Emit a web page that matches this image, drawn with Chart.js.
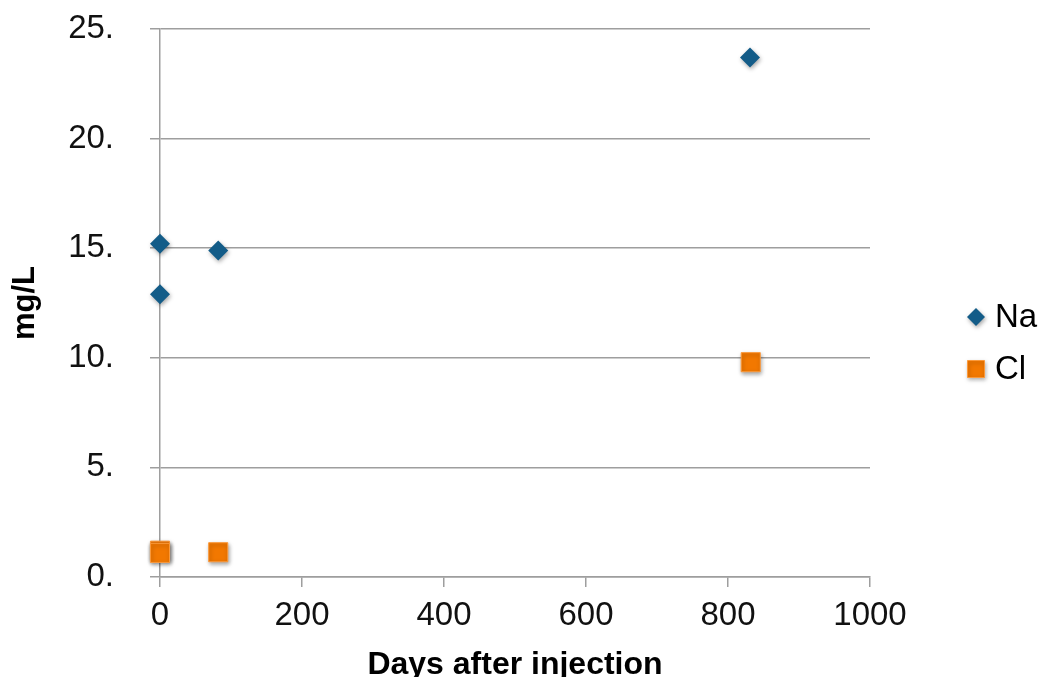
<!DOCTYPE html>
<html>
<head>
<meta charset="utf-8">
<script src="https://cdn.jsdelivr.net/npm/chart.js@4/dist/chart.umd.min.js"></script>
<style>
  html, body { margin: 0; padding: 0; background: #ffffff; }
  #wrap { width: 1042px; height: 677px; }
</style>
</head>
<body>
<div id="wrap"><canvas id="c" width="1042" height="677"></canvas></div>
<script>
// Sampling days and concentrations (mg/L)
const naDays   = [0, 0, 82, 831];
const naValues = [15.2, 12.9, 14.9, 23.7];
const clDays   = [0, 0, 82, 832];
const clValues = [1.2, 1.1, 1.13, 9.8];
const yTicks   = [0, 5, 10, 15, 20, 25];
const xTicks   = [0, 200, 400, 600, 800, 1000];
const seriesNames = ['Na', 'Cl'];

const FONT = '"Liberation Sans", Arial, sans-serif';

function toPoints(xs, ys) {
  return xs.map((x, i) => ({ x: x, y: ys[i] }));
}

function setShadow(ctx) {
  ctx.shadowColor = 'rgba(0,0,0,0.35)';
  ctx.shadowBlur = 4;
  ctx.shadowOffsetX = 1;
  ctx.shadowOffsetY = 2;
}

// Soft drop shadow under the markers
const markerShadow = {
  id: 'markerShadow',
  beforeDatasetsDraw(chart) {
    chart.ctx.save();
    setShadow(chart.ctx);
  },
  afterDatasetsDraw(chart) {
    chart.ctx.restore();
  }
};

// Legend at the right side, one entry per dataset
const sideLegend = {
  id: 'sideLegend',
  afterDraw(chart) {
    const ctx = chart.ctx;
    const rows = [317, 369];
    const radii = [9, 12];
    chart.data.datasets.forEach((ds, i) => {
      const y = rows[i];
      ctx.save();
      setShadow(ctx);
      ctx.fillStyle = ds.backgroundColor;
      ctx.strokeStyle = ds.borderColor || ds.backgroundColor;
      ctx.lineWidth = ds.borderWidth || 0;
      Chart.helpers.drawPoint(ctx, {
        pointStyle: ds.pointStyle,
        radius: radii[i],
        rotation: 0,
        borderWidth: ds.borderWidth || 0
      }, 976, y);
      ctx.restore();
      ctx.save();
      ctx.fillStyle = '#000000';
      ctx.font = '33px ' + FONT;
      ctx.textBaseline = 'middle';
      ctx.textAlign = 'left';
      ctx.fillText(ds.label, 995, y + 1);
      ctx.restore();
    });
  }
};

const chart = new Chart(document.getElementById('c'), {
  type: 'scatter',
  data: {
    datasets: [
      {
        label: seriesNames[0],
        data: toPoints(naDays, naValues),
        pointStyle: 'rectRot',
        pointRadius: 10,
        pointHoverRadius: 10,
        backgroundColor: '#135c88',
        borderColor: '#135c88',
        borderWidth: 0,
        clip: false
      },
      {
        label: seriesNames[1],
        data: toPoints(clDays, clValues),
        pointStyle: 'rect',
        pointRadius: 13.5,
        pointHoverRadius: 13.5,
        backgroundColor: '#f27800',
        borderColor: '#fb9a3c',
        borderWidth: 1,
        clip: false
      }
    ]
  },
  options: {
    responsive: false,
    animation: false,
    devicePixelRatio: 1,
    layout: { padding: { top: 29, right: 172, left: 0, bottom: 0 } },
    plugins: {
      legend: { display: false },
      tooltip: { enabled: false }
    },
    scales: {
      x: {
        type: 'linear',
        min: 0,
        max: 1000,
        afterBuildTicks(scale) { scale.ticks = xTicks.map(v => ({ value: v })); },
        afterFit(scale) { scale.height = 100; },
        grid: {
          drawOnChartArea: false,
          drawTicks: true,
          tickLength: 10,
          color: '#9e9e9e',
          lineWidth: 1.5
        },
        border: { display: true, color: '#9e9e9e', width: 1.5 },
        ticks: {
          color: '#111111',
          font: { family: FONT, size: 33 },
          padding: 9,
          maxRotation: 0,
          callback: v => String(v)
        },
        title: {
          display: true,
          text: 'Days after injection',
          color: '#000000',
          font: { family: FONT, size: 32, weight: 'bold' },
          padding: { top: 9, bottom: -7 }
        }
      },
      y: {
        type: 'linear',
        min: 0,
        max: 25,
        afterBuildTicks(scale) { scale.ticks = yTicks.map(v => ({ value: v })); },
        afterFit(scale) {
          scale.width = 160;
          scale.paddingTop = 0;
          scale.paddingBottom = 0;
        },
        grid: {
          drawOnChartArea: true,
          drawTicks: true,
          tickLength: 10,
          color: '#9e9e9e',
          lineWidth: 1.5
        },
        border: { display: true, color: '#9e9e9e', width: 1.5 },
        ticks: {
          color: '#111111',
          font: { family: FONT, size: 33 },
          padding: 36,
          callback: v => v + '.'
        },
        title: {
          display: true,
          text: 'mg/L',
          color: '#000000',
          font: { family: FONT, size: 31, weight: 'bold' },
          padding: { top: 7, bottom: 0 }
        }
      }
    }
  },
  plugins: [markerShadow, sideLegend]
});
</script>
</body>
</html>
